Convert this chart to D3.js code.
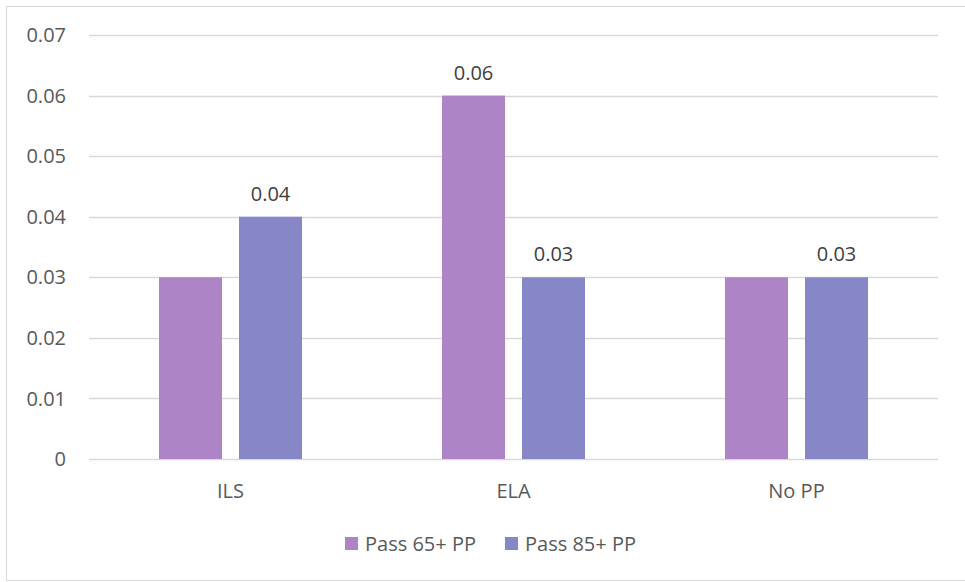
<!DOCTYPE html>
<html><head><meta charset="utf-8">
<script src="https://cdn.jsdelivr.net/npm/d3@7"></script>
<style>body{margin:0;background:#fff}svg{display:block}</style>
</head><body>
<svg id="c" width="965" height="582"></svg>
<script>
const categories = ["ILS", "ELA", "No PP"];
const seriesNames = ["Pass 65+ PP", "Pass 85+ PP"];
const pass65 = [0.03, 0.06, 0.03];
const pass85 = [0.04, 0.03, 0.03];
const showLabel65 = [false, true, false];
const showLabel85 = [true, true, true];
const yTicks = [0, 0.01, 0.02, 0.03, 0.04, 0.05, 0.06, 0.07];
const colors = ["#AD84C5", "#8787C8"];

const svg = d3.select("#c");
const font = "'Open Sans', 'Liberation Sans', sans-serif";
const txt = "#595959";
svg.append("rect").attr("x",6.5).attr("y",6.5).attr("width",970).attr("height",574)
  .attr("fill","#fff").attr("stroke","#d9d9d9");

const x0 = d3.scaleBand().domain(categories).range([89, 938]);
const x1 = d3.scaleBand().domain(seriesNames).range([0, x0.bandwidth()]).paddingInner(0.2125).paddingOuter(0.875);
const y = d3.scaleLinear().domain([0, 0.07]).range([459, 35]);

const g = svg.append("g");
g.selectAll("line.grid").data(yTicks).join("line")
  .attr("x1",89).attr("x2",938).attr("y1",d=>Math.round(y(d))+0.5).attr("y2",d=>Math.round(y(d))+0.5)
  .attr("stroke","#d9d9d9").attr("stroke-width",1.3);

g.selectAll("text.yt").data(yTicks).join("text")
  .attr("x",66).attr("y",d=>y(d)).attr("dy","0.36em").attr("text-anchor","end")
  .attr("font-family",font).attr("font-size",20).attr("fill",txt)
  .text(d=>d===0?"0":d.toFixed(2));

const series = [pass65, pass85];
const shows = [showLabel65, showLabel85];
series.forEach((vals, si) => {
  categories.forEach((c, ci) => {
    const bx = x0(c) + x1(seriesNames[si]);
    g.append("rect").attr("x",bx).attr("y",y(vals[ci])).attr("width",x1.bandwidth())
      .attr("height",y(0)-y(vals[ci])).attr("fill",colors[si]);
    if (shows[si][ci]) {
      g.append("text").attr("x",bx+x1.bandwidth()/2).attr("y",y(vals[ci])-16)
        .attr("text-anchor","middle").attr("font-family",font).attr("font-size",20).attr("fill","#404040")
        .text(vals[ci].toFixed(2));
    }
  });
});

g.selectAll("text.xt").data(categories).join("text")
  .attr("x",d=>x0(d)+x0.bandwidth()/2).attr("y",498).attr("text-anchor","middle")
  .attr("font-family",font).attr("font-size",20).attr("fill",txt).text(d=>d);

const legX = [345, 505];
seriesNames.forEach((s,i)=>{
  svg.append("rect").attr("x",legX[i]).attr("y",537).attr("width",13).attr("height",13).attr("fill",colors[i]);
  svg.append("text").attr("x",legX[i]+20).attr("y",551).attr("font-family",font).attr("font-size",20)
    .attr("fill",txt).text(s);
});
</script>
</body></html>
